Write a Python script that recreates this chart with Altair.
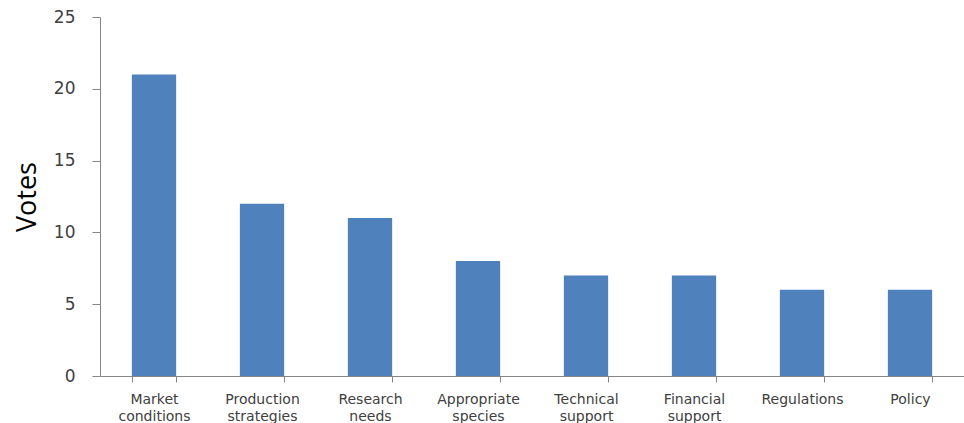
import altair as alt
import pandas as pd

categories = ["Market conditions", "Production strategies", "Research needs",
              "Appropriate species", "Technical support", "Financial support",
              "Regulations", "Policy"]
votes = [21, 12, 11, 8, 7, 7, 6, 6]

df = pd.DataFrame({"category": categories, "votes": votes})

FONT = "DejaVu Sans"

chart = alt.Chart(df).mark_bar(color="#4F81BD").encode(
    x=alt.X("category:N", sort=categories, title=None,
            scale=alt.Scale(paddingInner=0.59, paddingOuter=0.295),
            axis=alt.Axis(labelAngle=0, labelExpr="split(datum.label, ' ')",
                          labelFontSize=14, labelColor="#404040", labelFont=FONT,
                          labelPadding=10, labelLineHeight=17,
                          tickBand="extent", tickSize=6, tickColor="#868686",
                          domainColor="#868686", labelBaseline="top")),
    y=alt.Y("votes:Q", title="Votes",
            scale=alt.Scale(domain=[0, 25], nice=False),
            axis=alt.Axis(values=[0, 5, 10, 15, 20, 25], grid=False,
                          labelFontSize=17, labelColor="#404040", labelFont=FONT,
                          labelPadding=17, tickSize=8, tickColor="#868686",
                          domainColor="#868686",
                          titleFont="Open Sans", titleFontSize=27, titleFontWeight="normal",
                          titleColor="#000000", titlePadding=12)),
).properties(
    width=864, height=359,
    autosize="none",
    background="white",
    padding={"left": 100, "top": 17, "right": 0, "bottom": 47},
).configure_view(strokeWidth=0, stroke="transparent")

chart.save("out.html", embed_options={"renderer": "svg", "actions": False})
